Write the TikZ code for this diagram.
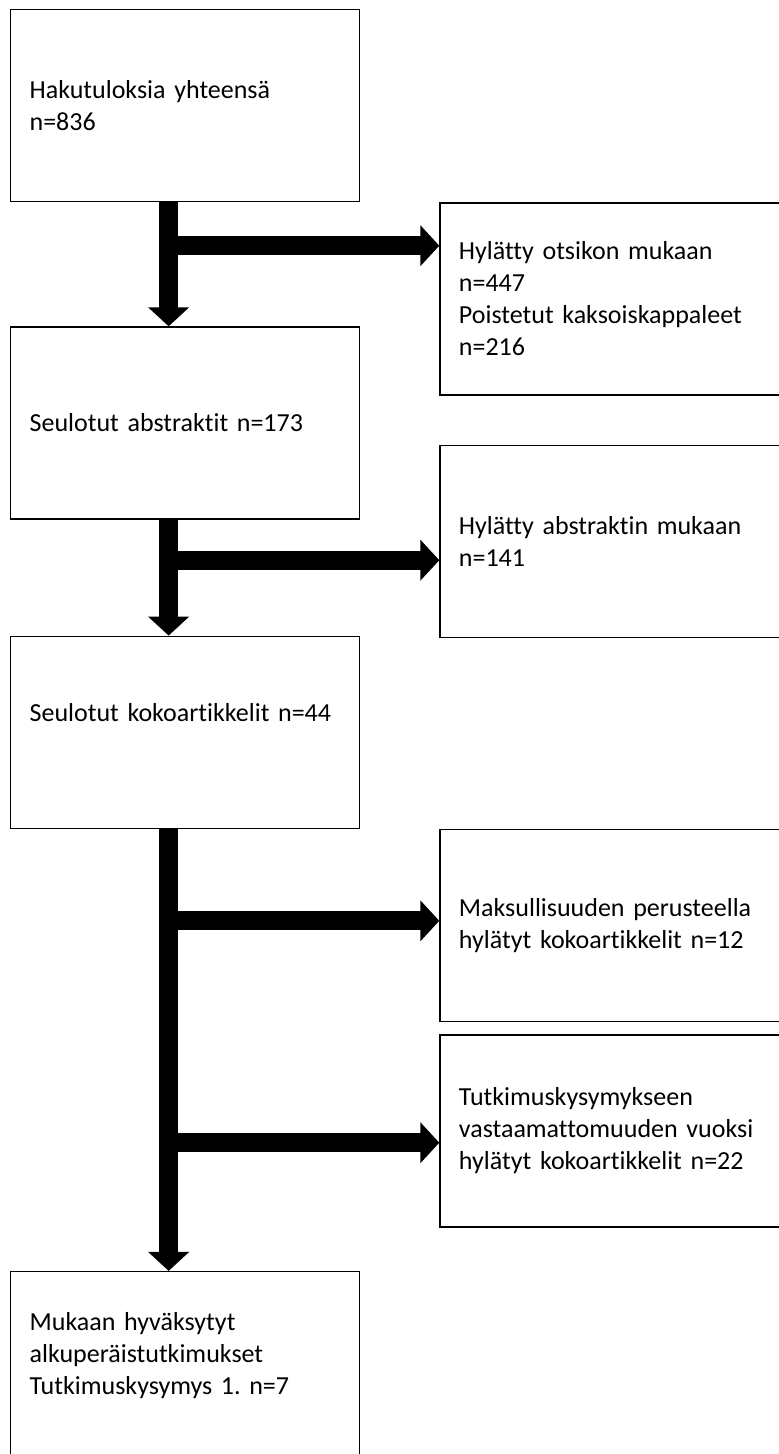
\documentclass[tikz,border=0pt]{standalone}
\usepackage{fontspec}
\setmainfont{Carlito}[Ligatures={NoCommon}]
\frenchspacing
\usetikzlibrary{arrows.meta, positioning, calc}
\newcommand{\boxfont}{\fontsize{26}{32}\selectfont\spaceskip 4.5pt\relax}

\begin{document}
\begin{tikzpicture}[
  x=1pt, y=-1pt,
  box/.style   = {draw, line width=1.3pt, minimum height=192pt, minimum width=349pt,
                  text width=311pt, inner xsep=19pt, align=left, font={\boxfont}},
  fat/.style   = {line width=19pt, -{Triangle[width=40pt, length=19pt]}},
  node distance=124pt and 79pt
]
  \useasboundingbox (0,0) rectangle (779,1454);
  \clip (0,0) rectangle (779,1454);

  % main column
  \node[box, anchor=north west] (hits) at (10,9) {Hakutuloksia yhteensä\\n=836};
  \node[box, below=124pt of hits] (abstr) {Seulotut abstraktit n=173};
  \node[box, below=116pt of abstr, text depth=40pt] (full) {Seulotut kokoartikkelit n=44};
  \node[box, below=442pt of full, text depth=92pt] (incl) {Mukaan hyväksytyt\\alkuperäistutkimukset\\Tutkimuskysymys 1. n=7};

  % excluded, right column
  \node[box, anchor=north west] (extitle) at ([xshift=79pt]hits.south east)
    {Hylätty otsikon mukaan\\n=447\\Poistetut kaksoiskappaleet\\n=216};
  \node[box, below=49pt of extitle] (exabstr) {Hylätty abstraktin mukaan\\n=141};
  \node[box, anchor=north west] (exfee) at ([xshift=79pt]full.south east)
    {Maksullisuuden perusteella\\hylätyt kokoartikkelit n=12};
  \node[box, below=12pt of exfee] (exrq)
    {Tutkimuskysymykseen\\vastaamattomuuden vuoksi\\hylätyt kokoartikkelit n=22};

  % down arrows
  \draw[fat] ([xshift=-16.5pt]hits.south) -- ([xshift=-16.5pt]abstr.north);
  \draw[fat] ([xshift=-16.5pt]abstr.south) -- ([xshift=-16.5pt]full.north);
  \draw[fat] ([xshift=-16.5pt]full.south) -- ([xshift=-16.5pt]incl.north);

  % side branches
  \coordinate (split1) at ($([xshift=-16.5pt]hits.south)!0.35!([xshift=-16.5pt]abstr.north)$);
  \coordinate (split2) at ($([xshift=-16.5pt]abstr.south)!0.35!([xshift=-16.5pt]full.north)$);
  \coordinate (split3) at ($([xshift=-16.5pt]full.south)!0.208!([xshift=-16.5pt]incl.north)$);
  \coordinate (split4) at ($([xshift=-16.5pt]full.south)!0.71!([xshift=-16.5pt]incl.north)$);
  \draw[fat] (split1) -- (split1 -| extitle.west);
  \draw[fat] (split2) -- (split2 -| exabstr.west);
  \draw[fat] (split3) -- (split3 -| exfee.west);
  \draw[fat] (split4) -- (split4 -| exrq.west);

\end{tikzpicture}
\end{document}
